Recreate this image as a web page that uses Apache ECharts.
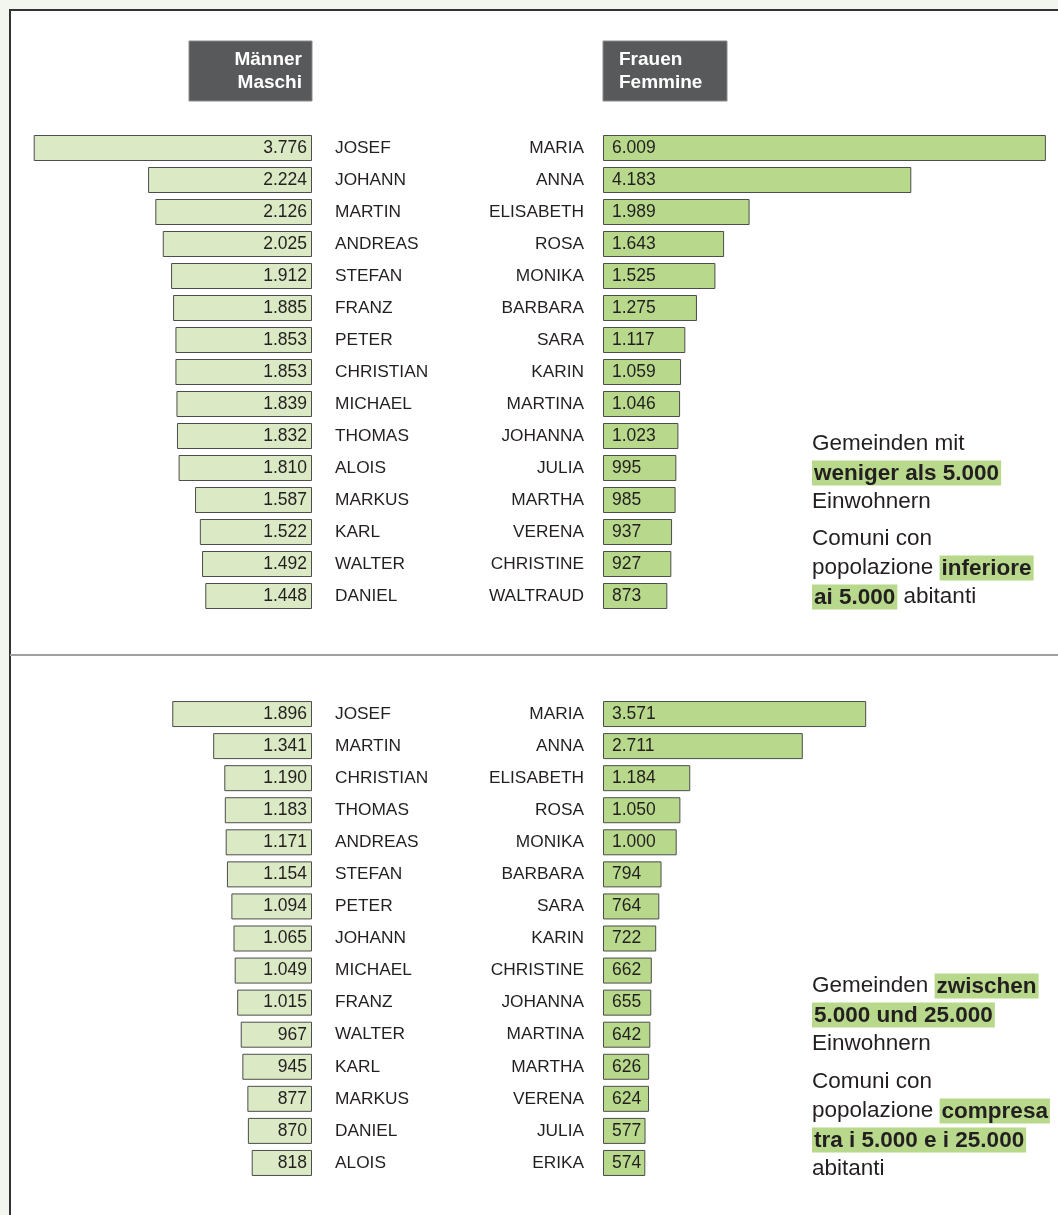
<!DOCTYPE html>
<html>
<head>
<meta charset="utf-8">
<script src="https://cdn.jsdelivr.net/npm/echarts@6/dist/echarts.min.js"></script>
<style>
html,body{margin:0;padding:0;background:#f3f6ee;}
#frame{position:absolute;left:9px;top:9px;width:1200px;height:1300px;background:#fff;border-left:2px solid #333;border-top:2px solid #333;}
#chart{position:absolute;left:0;top:0;width:1058px;height:1215px;}
</style>
</head>
<body>
<div id="frame"></div>
<div id="chart"></div>
<script>
const topMaleNames = ['JOSEF','JOHANN','MARTIN','ANDREAS','STEFAN','FRANZ','PETER','CHRISTIAN','MICHAEL','THOMAS','ALOIS','MARKUS','KARL','WALTER','DANIEL'];
const topMaleValues = [3776,2224,2126,2025,1912,1885,1853,1853,1839,1832,1810,1587,1522,1492,1448];
const topFemaleNames = ['MARIA','ANNA','ELISABETH','ROSA','MONIKA','BARBARA','SARA','KARIN','MARTINA','JOHANNA','JULIA','MARTHA','VERENA','CHRISTINE','WALTRAUD'];
const topFemaleValues = [6009,4183,1989,1643,1525,1275,1117,1059,1046,1023,995,985,937,927,873];
const botMaleNames = ['JOSEF','MARTIN','CHRISTIAN','THOMAS','ANDREAS','STEFAN','PETER','JOHANN','MICHAEL','FRANZ','WALTER','KARL','MARKUS','DANIEL','ALOIS'];
const botMaleValues = [1896,1341,1190,1183,1171,1154,1094,1065,1049,1015,967,945,877,870,818];
const botFemaleNames = ['MARIA','ANNA','ELISABETH','ROSA','MONIKA','BARBARA','SARA','KARIN','CHRISTINE','JOHANNA','MARTINA','MARTHA','VERENA','JULIA','ERIKA'];
const botFemaleValues = [3571,2711,1184,1050,1000,794,764,722,662,655,642,626,624,577,574];

const FONT = '"Liberation Sans", Arial, sans-serif';
const TXT = '#231f20';
const MALE_FILL = '#dbe9c5';
const FEMALE_FILL = '#b8d98b';
const PX_PER_UNIT = 0.0737;

function fmt(v){
  if (v >= 1000) { const r = v % 1000; return Math.floor(v/1000) + '.' + String(r).padStart(3,'0'); }
  return String(v);
}

const grids = [
  {left:0, width:312, top:132, height:480},
  {left:603, width:455, top:132, height:480},
  {left:0, width:312, top:698, height:481},
  {left:603, width:455, top:698, height:481}
];
const maleMax = 312/PX_PER_UNIT, femaleMax = 455/PX_PER_UNIT;
const xAxes = grids.map((g,i)=>({gridIndex:i,type:'value',min:0,max:(i%2===0?maleMax:femaleMax),inverse:i%2===0,show:false}));
const nameSets = [topMaleNames, topFemaleNames, botMaleNames, botFemaleNames];
const yAxes = nameSets.map((names,i)=>({
  gridIndex:i, type:'category', data:names, inverse:true,
  position: i%2===0 ? 'right' : 'left',
  axisLine:{show:false}, axisTick:{show:false}, splitLine:{show:false},
  axisLabel:{color:TXT, fontSize:17.3, fontFamily:FONT, margin: i%2===0 ? 23 : 19, align: i%2===0 ? 'left' : 'right'}
}));
const valueSets = [topMaleValues, topFemaleValues, botMaleValues, botFemaleValues];
const series = valueSets.map((vals,i)=>({
  type:'bar', xAxisIndex:i, yAxisIndex:i, data:vals, barWidth:26,
  itemStyle:{color: i%2===0 ? MALE_FILL : FEMALE_FILL, borderColor:'#4d4d4d', borderWidth:1},
  label:{show:true, position: i%2===0 ? 'insideRight' : 'insideLeft', distance: i%2===0 ? 5 : 9,
    color:TXT, fontSize:17.5, fontFamily:FONT, formatter:p=>fmt(p.value)},
  silent:true, animation:false
}));

const rich = {
  n:{fontSize:22.5, fontFamily:FONT, color:TXT},
  h:{fontSize:22.5, fontFamily:FONT, color:TXT, fontWeight:'bold', backgroundColor:FEMALE_FILL, padding:[2,2,0,2]}
};
function line(y, text){
  return {type:'text', x:812, y:y, style:{text:text, rich:rich, font:'22.5px '+FONT, fill:TXT, align:'left', verticalAlign:'middle'}};
}
const sideText = [
  line(444,'{n|Gemeinden mit}'),
  line(473,'{h|weniger als 5.000}'),
  line(502,'{n|Einwohnern}'),
  line(539,'{n|Comuni con}'),
  line(568,'{n|popolazione }{h|inferiore}'),
  line(597,'{h|ai 5.000}{n| abitanti}'),
  line(986,'{n|Gemeinden }{h|zwischen}'),
  line(1015,'{h|5.000 und 25.000}'),
  line(1044,'{n|Einwohnern}'),
  line(1082,'{n|Comuni con}'),
  line(1111,'{n|popolazione }{h|compresa}'),
  line(1140,'{h|tra i 5.000 e i 25.000}'),
  line(1169,'{n|abitanti}')
];

const headers = [
  {type:'rect', shape:{x:189, y:41, width:123, height:60}, style:{fill:'#58595b', stroke:'#8a8a8a', lineWidth:1}},
  {type:'text', x:302, y:71, style:{text:'Männer\nMaschi', fill:'#ffffff', font:'bold 19px '+FONT, align:'right', verticalAlign:'middle', lineHeight:23}},
  {type:'rect', shape:{x:603, y:41, width:124, height:60}, style:{fill:'#58595b', stroke:'#8a8a8a', lineWidth:1}},
  {type:'text', x:619, y:71, style:{text:'Frauen\nFemmine', fill:'#ffffff', font:'bold 19px '+FONT, align:'left', verticalAlign:'middle', lineHeight:23}},
  {type:'line', shape:{x1:10, y1:655, x2:1058, y2:655}, style:{stroke:'#a0a0a0', lineWidth:2}}
];

const chart = echarts.init(document.getElementById('chart'), null, {renderer:'canvas'});
chart.setOption({
  backgroundColor:'transparent',
  animation:false,
  grid:grids,
  xAxis:xAxes,
  yAxis:yAxes,
  series:series,
  graphic:{elements: headers.concat(sideText)}
});
</script>
</body>
</html>
